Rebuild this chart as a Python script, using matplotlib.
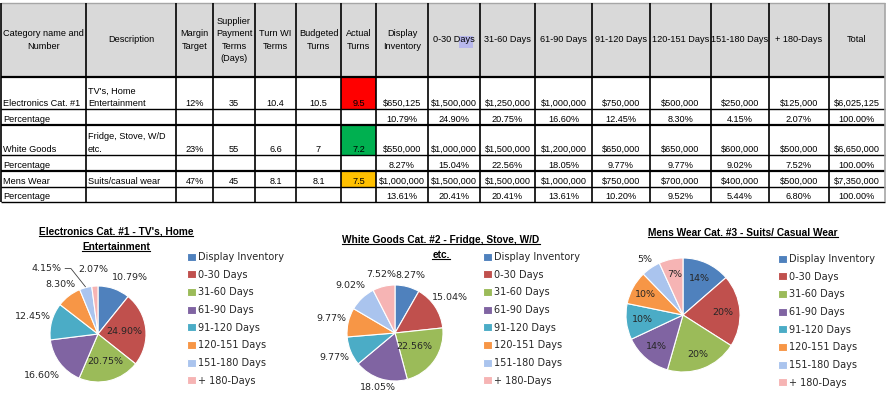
import numpy as np
import matplotlib
matplotlib.use("Agg")
import matplotlib.pyplot as plt
from matplotlib.patches import Rectangle
from matplotlib.lines import Line2D

W, H = 889, 403

# ---- data ----
categories = ["Display Inventory", "0-30 Days", "31-60 Days", "61-90 Days",
              "91-120 Days", "120-151 Days", "151-180 Days", "+ 180-Days"]
row_names = ["Electronics Cat. #1", "White Goods", "Mens Wear"]
descriptions = ["TV's, Home\nEntertainment", "Fridge, Stove, W/D\netc.", "Suits/casual wear"]
margin_target = ["12%", "23%", "47%"]
payment_terms = [35, 55, 45]
turn_wi_terms = [10.4, 6.6, 8.1]
budgeted_turns = [10.5, 7, 8.1]
actual_turns = [9.5, 7.2, 7.5]
actual_colors = ["#FF0000", "#00B050", "#FFC000"]

electronics = [650125, 1500000, 1250000, 1000000, 750000, 500000, 250000, 125000]
white_goods = [550000, 1000000, 1500000, 1200000, 650000, 650000, 600000, 500000]
mens_wear = [1000000, 1500000, 1500000, 1000000, 750000, 700000, 400000, 500000]

header = ["Category name and\nNumber", "Description", "Margin\nTarget",
          "Supplier\nPayment\nTerms\n(Days)", "Turn WI\nTerms", "Budgeted\nTurns",
          "Actual\nTurns", "Display\nInventory", "0-30 Days", "31-60 Days",
          "61-90 Days", "91-120 Days", "120-151 Days", "151-180 Days",
          "+ 180-Days", "Total"]

pie_titles = ["Electronics Cat. #1 - TV's, Home\nEntertainment",
              "White Goods Cat. #2 - Fridge, Stove, W/D\netc.",
              "Mens Wear Cat. #3 - Suits/ Casual Wear"]

pie_colors = ["#4F81BD", "#C0504D", "#9BBB59", "#8064A2",
              "#4BACC6", "#F79646", "#AAC4EE", "#F6B4B4"]

# ---- figure ----
fig = plt.figure(figsize=(W / 100, H / 100), dpi=100)
fig.patch.set_facecolor("white")
tab = fig.add_axes([0, 0, 1, 1])
tab.set_xlim(0, W)
tab.set_ylim(H, 0)
tab.axis("off")

col_x = [1, 86, 176, 213, 255, 296, 341, 376, 428, 480, 535, 592, 650, 711, 769, 829, 885]
row_y = [3, 77, 109, 125, 155, 171, 187, 202]
tfont = dict(family="Liberation Sans", fontsize=6.6, color="black")

# header background
tab.add_patch(Rectangle((col_x[0], row_y[0]), col_x[-1] - col_x[0], row_y[1] - row_y[0],
                        facecolor="#D9D9D9", edgecolor="none", zorder=0))
# selection highlight on "Days"
tab.add_patch(Rectangle((459, 36), 14, 12, facecolor="#B8B8EC", edgecolor="none", zorder=1))

for i, h in enumerate(header):
    cx = (col_x[i] + col_x[i + 1]) / 2
    cy = (row_y[0] + row_y[1]) / 2
    if i == 0:
        tab.text(col_x[i] + 2, cy, h, ha="left", va="center", multialignment="center",
                 linespacing=1.45, zorder=3, **tfont)
    else:
        tab.text(cx, cy, h, ha="center", va="center", multialignment="center",
                 linespacing=1.45, zorder=3, **tfont)

all_vals = [electronics, white_goods, mens_wear]
for r in range(3):
    vals = all_vals[r]
    total = sum(vals)
    ytop, ybot = row_y[1 + 2 * r], row_y[2 + 2 * r]
    pbot = row_y[3 + 2 * r]
    # actual turns colour
    tab.add_patch(Rectangle((col_x[6], ytop), col_x[7] - col_x[6], ybot - ytop,
                            facecolor=actual_colors[r], edgecolor="none", zorder=0))
    cells = [row_names[r], descriptions[r], margin_target[r], f"{payment_terms[r]:g}",
             f"{turn_wi_terms[r]:g}", f"{budgeted_turns[r]:g}", f"{actual_turns[r]:g}"]
    cells += [f"${v:,.0f}" for v in vals] + [f"${total:,.0f}"]
    for c, s in enumerate(cells):
        if c < 2:
            tab.text(col_x[c] + 2, ybot - 1.5, s, ha="left", va="bottom",
                     linespacing=1.45, zorder=3, **tfont)
        else:
            tab.text((col_x[c] + col_x[c + 1]) / 2, ybot - 1.5, s, ha="center",
                     va="bottom", zorder=3, **tfont)
    tab.text(col_x[0] + 2, pbot - 1, "Percentage", ha="left", va="bottom", zorder=3, **tfont)
    pcts = [v / total * 100 for v in vals] + [100.0]
    for k, p in enumerate(pcts):
        c = 7 + k
        tab.text((col_x[c] + col_x[c + 1]) / 2, pbot - 1, f"{p:.2f}%", ha="center",
                 va="bottom", zorder=3, **tfont)

# grid lines
for j, y in enumerate(row_y):
    lw = 1.6 if j in (1, 3, 5) else 1.0
    col = "#A6A6A6" if j == 0 else "black"
    tab.plot([col_x[0], col_x[-1]], [y, y], color=col, lw=lw, zorder=4,
             solid_capstyle="butt")
for i, x in enumerate(col_x):
    col = "#A6A6A6" if i == len(col_x) - 1 else "black"
    tab.plot([x, x], [row_y[0], row_y[-1]], color=col, lw=1.2, zorder=4,
             solid_capstyle="butt")

# ---- pies ----
pie_boxes = [(98, 334, 48), (395, 333, 48), (683, 315, 57)]
label_r = [[1.36, 0.55, 0.6, 1.45, 1.4, 1.3, 1.73, 1.35],
           [1.24, 1.37, 0.48, 1.2, 1.37, 1.35, 1.36, 1.25],
           [0.7, 0.7, 0.75, 0.72, 0.72, 0.75, 1.18, 0.72]]
label_nudge = [[-10, 0, 0, 0, 0, 0, 23, 0],
               [0] * 8,
               [0] * 8]
pct_fmt = ["{:.2f}%", "{:.2f}%", "{:.0f}%"]
legend_pos = [(187, 252), (483, 252), (778, 254)]
title_pos = [(116, 232), (441, 240), (743, 233)]

title_texts = []
for p in range(3):
    vals = all_vals[p]
    cx, cy, R = pie_boxes[p]
    ax = fig.add_axes([(cx - R) / W, (H - cy - R) / H, 2 * R / W, 2 * R / H])
    wedges, _ = ax.pie(vals, colors=pie_colors, startangle=90, counterclock=False,
                       radius=1, wedgeprops=dict(edgecolor="white", linewidth=0.8))
    ax.set_xlim(-1, 1)
    ax.set_ylim(-1, 1)
    ax.set_aspect("equal")
    ax.axis("off")
    total = sum(vals)
    for k, w in enumerate(wedges):
        mid = (w.theta1 + w.theta2) / 2
        ang = np.deg2rad(mid + label_nudge[p][k])
        r = label_r[p][k]
        lx, ly = r * np.cos(ang), r * np.sin(ang)
        ax.text(lx, ly, pct_fmt[p].format(vals[k] / total * 100), ha="center",
                va="center", fontsize=6.8, family="DejaVu Sans", color="#262626")
        if r > 1.6:
            ex, ey = np.cos(np.deg2rad(mid)), np.sin(np.deg2rad(mid))
            ax.plot([lx + 0.38, lx + 0.5, ex * 1.02], [ly, ly, ey * 1.02],
                    color="#404040", lw=0.6, clip_on=False)
    lx, ly = legend_pos[p]
    ax.legend(wedges, categories, loc="upper left", bbox_to_anchor=(lx / W, 1 - ly / H),
              bbox_transform=fig.transFigure, frameon=False, borderpad=0, borderaxespad=0,
              prop=dict(family="DejaVu Sans", size=7), handlelength=0.9, handleheight=0.9,
              handletextpad=0.25, labelspacing=0.79, labelcolor="#262626")
    tx, ty = title_pos[p]
    for n, line in enumerate(pie_titles[p].split("\n")):
        t = fig.text(tx / W, 1 - (ty + n * 15) / H, line, ha="center", va="center",
                     family="Liberation Sans", fontweight="bold", fontsize=7.3, color="black")
        title_texts.append(t)

fig.canvas.draw()
inv = fig.transFigure.inverted()
for t in title_texts:
    bb = t.get_window_extent()
    (x0, y0), (x1, _) = inv.transform([(bb.x0, bb.y0 + 1.2), (bb.x1, bb.y0)])
    fig.add_artist(Line2D([x0, x1], [y0, y0], transform=fig.transFigure,
                          color="black", lw=0.8))

fig.savefig("out.png", dpi=100)
